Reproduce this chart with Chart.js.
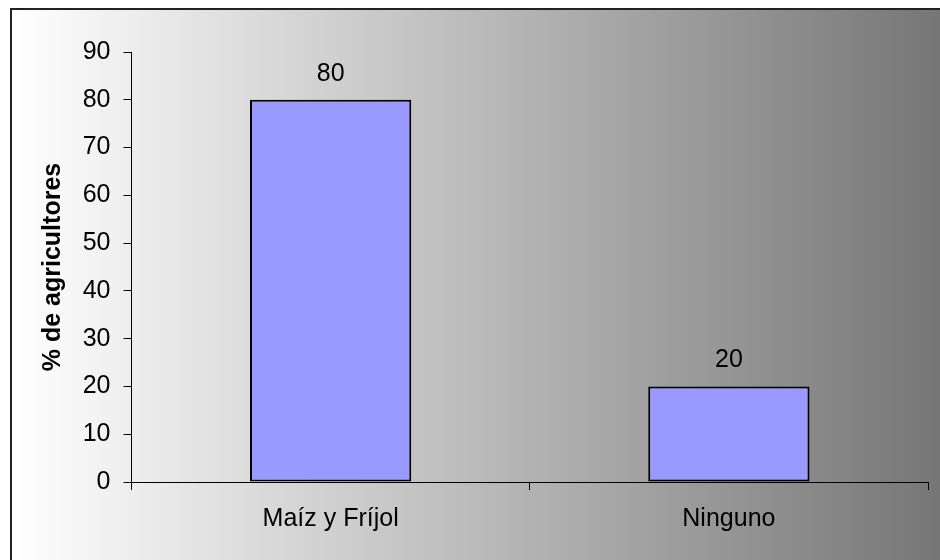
<!DOCTYPE html>
<html>
<head>
<meta charset="utf-8">
<script src="https://cdn.jsdelivr.net/npm/chart.js@4/dist/chart.umd.min.js"></script>
<style>
  html, body { margin: 0; padding: 0; background: #fff; }
  #wrap { width: 940px; height: 560px; }
</style>
</head>
<body>
<div id="wrap"><canvas id="chart" width="940" height="560"></canvas></div>
<script>
// ── Data ──────────────────────────────────────────────────────────────────────
const CATEGORIES = ['Maíz y Fríjol', 'Ninguno'];
const VALUES     = [80, 20];
const Y_TITLE    = '% de agricultores';
const Y_MIN = 0, Y_MAX = 90, Y_STEP = 10;

const FONT = '"Liberation Sans", Arial, sans-serif';

// ── Background gradient + frame ───────────────────────────────────────────────
const frame = {
  id: 'frame',
  beforeDraw(chart) {
    const { ctx, width, height } = chart;
    ctx.save();
    ctx.fillStyle = '#fff';
    ctx.fillRect(0, 0, width, height);
    const g = ctx.createLinearGradient(11, 0, width, 0);
    g.addColorStop(0, '#ffffff');
    g.addColorStop(1, '#767676');
    ctx.fillStyle = g;
    ctx.fillRect(11, 9, width - 11, height - 9);
    ctx.strokeStyle = '#222';
    ctx.lineWidth = 2;
    ctx.beginPath();
    ctx.moveTo(11, height + 2);
    ctx.lineTo(11, 9);
    ctx.lineTo(width + 2, 9);
    ctx.stroke();
    ctx.restore();
  }
};

// ── Value labels above bars ───────────────────────────────────────────────────
const valueLabels = {
  id: 'valueLabels',
  afterDatasetsDraw(chart) {
    const { ctx } = chart;
    const meta = chart.getDatasetMeta(0);
    ctx.save();
    ctx.font = '25px ' + FONT;
    ctx.fillStyle = '#000';
    ctx.textAlign = 'center';
    ctx.textBaseline = 'alphabetic';
    meta.data.forEach((bar, i) => {
      ctx.fillText(String(VALUES[i]), bar.x, bar.y - 19);
    });
    ctx.restore();
  }
};

new Chart(document.getElementById('chart'), {
  type: 'bar',
  data: {
    labels: CATEGORIES,
    datasets: [{
      data: VALUES,
      backgroundColor: '#9999FF',
      borderColor: '#000',
      borderWidth: 2,
      borderSkipped: false,
      barPercentage: 0.405,
      categoryPercentage: 1.0,
    }]
  },
  options: {
    responsive: false,
    animation: false,
    layout: { padding: { top: 52, right: 12, bottom: 0, left: 0 } },
    plugins: { legend: { display: false }, tooltip: { enabled: false } },
    scales: {
      x: {
        grid: { display: true, drawOnChartArea: false, offset: true, tickLength: 8, color: '#000', lineWidth: 1 },
        border: { color: '#000', width: 1 },
        ticks: { color: '#000', font: { family: FONT, size: 25 }, padding: 14, maxRotation: 0 },
        afterFit(scale) { scale.height = 78; }
      },
      y: {
        min: Y_MIN, max: Y_MAX,
        grid: { display: true, drawOnChartArea: false, tickLength: 8, color: '#000', lineWidth: 1 },
        border: { color: '#000', width: 1 },
        ticks: { stepSize: Y_STEP, color: '#000', font: { family: FONT, size: 25 }, padding: 13 },
        title: {
          display: true, text: Y_TITLE, color: '#000',
          font: { family: FONT, size: 25, weight: 'bold' },
          padding: { top: 38, bottom: 0 }
        },
        afterFit(scale) { scale.width = 131.5; }
      }
    }
  },
  plugins: [frame, valueLabels]
});
</script>
</body>
</html>
